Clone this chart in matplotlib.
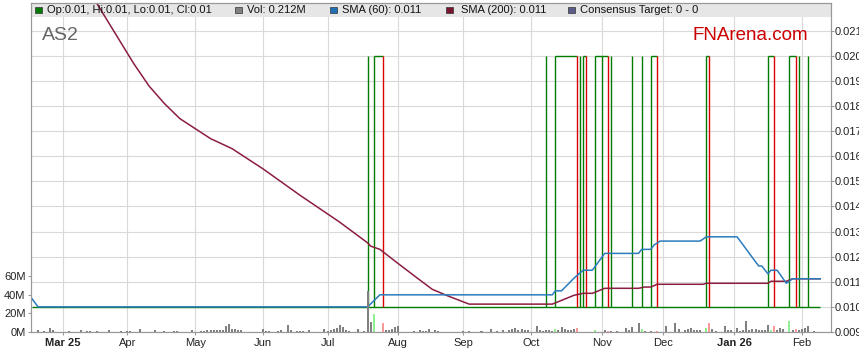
import numpy as np
import pandas as pd
import matplotlib
matplotlib.use("Agg")
from matplotlib import pyplot as plt
from matplotlib.patches import Rectangle

plt.rcParams['font.family'] = ['Liberation Sans', 'DejaVu Sans']

# x axis runs on weekdays only
days = pd.bdate_range("2025-02-17", "2026-02-13")
first_day = "2025-02-17"
last_day = "2026-02-10"

# close sits at 0.010, jumping to 0.020 from run_start to run_end
price_low = 0.010
price_high = 0.020
run_start = ["2025-07-18", "2025-07-22", "2025-10-08", "2025-10-13", "2025-10-23", "2025-10-24",
             "2025-10-30", "2025-11-03", "2025-11-06", "2025-11-17", "2025-11-20", "2025-11-25",
             "2025-12-19", "2026-01-16", "2026-01-27", "2026-01-30", "2026-02-04"]
run_end = ["2025-07-18", "2025-07-25", "2025-10-08", "2025-10-22", "2025-10-23", "2025-10-27",
           "2025-11-05", "2025-11-03", "2025-11-06", "2025-11-17", "2025-11-20", "2025-11-27",
           "2025-12-22", "2026-01-20", "2026-01-29", "2026-01-30", "2026-02-04"]

sma60_dates = ["2025-02-17", "2025-02-19", "2025-07-18", "2025-07-24", "2025-10-10", "2025-10-13",
               "2025-10-15", "2025-10-21", "2025-10-24", "2025-10-29", "2025-11-04", "2025-11-19",
               "2025-11-20", "2025-11-25", "2025-11-26", "2025-11-28", "2025-12-17", "2025-12-19",
               "2026-01-02", "2026-01-13", "2026-01-14", "2026-01-16", "2026-01-19", "2026-01-21",
               "2026-01-26", "2026-01-28", "2026-02-10"]
sma60_vals = [0.01033, 0.0100, 0.0100, 0.01048, 0.01048, 0.01064,
              0.01064, 0.01114, 0.01146, 0.01146, 0.01213, 0.01213,
              0.01229, 0.01229, 0.01246, 0.01262, 0.01262, 0.01279,
              0.01279, 0.01163, 0.01163, 0.01132, 0.01146, 0.01146,
              0.01094, 0.01112, 0.01112]

sma200_dates = ["2025-02-17", "2025-03-18", "2025-03-24", "2025-03-28", "2025-04-03", "2025-04-10",
                "2025-04-17", "2025-04-24", "2025-05-01", "2025-05-08", "2025-05-19", "2025-06-02",
                "2025-06-18", "2025-07-07", "2025-07-18", "2025-07-21", "2025-07-24", "2025-08-01",
                "2025-08-11", "2025-08-18", "2025-08-25", "2025-09-03", "2025-10-10", "2025-10-21",
                "2025-10-24", "2025-10-29", "2025-11-04", "2025-11-19", "2025-11-21", "2025-11-25",
                "2025-11-27", "2025-12-18", "2025-12-19", "2026-01-16", "2026-01-19", "2026-01-26",
                "2026-01-28", "2026-02-10"]
sma200_vals = [0.0262, 0.0221, 0.0213, 0.0205, 0.0197, 0.0188,
               0.0181, 0.0175, 0.0171, 0.0167, 0.0163, 0.0155,
               0.01445, 0.01337, 0.01255, 0.01242, 0.01229, 0.01172,
               0.01116, 0.0107, 0.01044, 0.01011, 0.01011, 0.01046,
               0.01054, 0.01054, 0.01074, 0.01074, 0.01079, 0.01079,
               0.0109, 0.0109, 0.01094, 0.01094, 0.01102, 0.01102,
               0.01112, 0.01112]

# volume in millions of shares
vol_dates = [
    "2025-02-19", "2025-02-21", "2025-02-25", "2025-02-26",
    "2025-03-05", "2025-03-11", "2025-03-13", "2025-03-14", "2025-03-18", "2025-03-24", "2025-03-28",
    "2025-04-01", "2025-04-02", "2025-04-07", "2025-04-14", "2025-04-17", "2025-04-22", "2025-04-23",
    "2025-04-30",
    "2025-05-05", "2025-05-06", "2025-05-07", "2025-05-08", "2025-05-09", "2025-05-12", "2025-05-13",
    "2025-05-14", "2025-05-15", "2025-05-16", "2025-05-19", "2025-05-20", "2025-05-21", "2025-05-22",
    "2025-06-02", "2025-06-03", "2025-06-04", "2025-06-09", "2025-06-10", "2025-06-12", "2025-06-13",
    "2025-06-17", "2025-06-18", "2025-06-19", "2025-06-23", "2025-06-30",
    "2025-07-01", "2025-07-02", "2025-07-03", "2025-07-04", "2025-07-07", "2025-07-08", "2025-07-09",
    "2025-07-10", "2025-07-15", "2025-07-17", "2025-07-18", "2025-07-21", "2025-07-22", "2025-07-25",
    "2025-07-28", "2025-07-29", "2025-07-30", "2025-07-31",
    "2025-08-01", "2025-08-08", "2025-08-12", "2025-08-13", "2025-08-14", "2025-08-15", "2025-08-19",
    "2025-08-20",
    "2025-09-01", "2025-09-03", "2025-09-09", "2025-09-12", "2025-09-16", "2025-09-18", "2025-09-22",
    "2025-09-23", "2025-09-24", "2025-09-25", "2025-09-26", "2025-09-29", "2025-09-30",
    "2025-10-03", "2025-10-06", "2025-10-07", "2025-10-08", "2025-10-09", "2025-10-10", "2025-10-13",
    "2025-10-14", "2025-10-15", "2025-10-16", "2025-10-17", "2025-10-20", "2025-10-21", "2025-10-22",
    "2025-10-30",
    "2025-11-04", "2025-11-05", "2025-11-06", "2025-11-10", "2025-11-13", "2025-11-14", "2025-11-17",
    "2025-11-19", "2025-11-20", "2025-11-21", "2025-11-25", "2025-11-27",
    "2025-12-02", "2025-12-05", "2025-12-08", "2025-12-10", "2025-12-11", "2025-12-12", "2025-12-15",
    "2025-12-16", "2025-12-17", "2025-12-19", "2025-12-22", "2025-12-23", "2025-12-24", "2025-12-29",
    "2025-12-30", "2025-12-31",
    "2026-01-02", "2026-01-05", "2026-01-06", "2026-01-07", "2026-01-08", "2026-01-09", "2026-01-12",
    "2026-01-13", "2026-01-14", "2026-01-15", "2026-01-16", "2026-01-19", "2026-01-20", "2026-01-21",
    "2026-01-22", "2026-01-23", "2026-01-27", "2026-01-28", "2026-01-29", "2026-01-30",
    "2026-02-02", "2026-02-03", "2026-02-04", "2026-02-06"]
vol_m = [
    2.1, 1.1, 4.3, 1.8,
    1.1, 2.1, 1.1, 1.1, 1.1, 2.1, 1.1,
    1.1, 1.1, 3.2, 1.8, 1.1, 1.1, 1.1,
    2.1,
    1.1, 1.1, 2.1, 2.1, 2.1, 2.1, 1.8,
    2.1, 6.4, 8.6, 3.6, 2.9, 2.1, 2.1,
    3.2, 1.1, 1.1, 1.1, 2.1, 7.5, 1.8,
    1.1, 1.1, 1.1, 2.1, 3.2,
    1.1, 2.1, 3.2, 4.3, 7.1, 5.7, 2.1,
    1.1, 3.2, 1.1, 44.0, 11.0, 19.3, 10.0,
    2.1, 2.1, 3.6, 5.0,
    6.4, 1.1, 2.1, 1.1, 1.1, 2.9, 2.1,
    1.1,
    1.1, 1.1, 1.1, 3.2, 1.1, 2.1, 2.1,
    3.2, 3.9, 2.1, 3.2, 2.1, 2.1,
    6.4, 2.1, 1.1, 2.1, 2.1, 1.1, 3.2,
    2.1, 5.0, 3.2, 2.1, 2.1, 3.2, 4.3,
    2.1,
    2.1, 1.1, 1.1, 1.1, 4.3, 2.1, 5.0,
    9.6, 3.2, 1.1, 1.1, 1.1,
    6.4, 10.0, 3.2, 2.1, 3.2, 4.3, 2.1,
    2.1, 2.1, 4.3, 9.6, 3.2, 1.1, 6.4,
    2.1, 2.1,
    4.3, 1.1, 2.1, 12.1, 2.1, 3.2, 3.2,
    2.1, 2.1, 2.1, 7.1, 2.1, 6.4, 2.1,
    4.3, 3.2, 12.1, 2.1, 3.2, 2.1,
    3.2, 4.3, 6.4, 1.1]
up_days = ["2025-07-22", "2025-10-13", "2025-10-30", "2025-11-20", "2025-12-19", "2026-01-19", "2026-01-27"]
down_days = ["2025-07-25", "2025-10-22", "2025-11-05", "2025-11-27", "2025-12-22", "2026-01-20", "2026-01-29"]

month_labels = ["Mar 25", "Apr", "May", "Jun", "Jul", "Aug", "Sep", "Oct", "Nov", "Dec", "Jan 26", "Feb"]
month_firsts = ["2025-03-01", "2025-04-01", "2025-05-01", "2025-06-01", "2025-07-01", "2025-08-01",
                "2025-09-01", "2025-10-01", "2025-11-01", "2025-12-01", "2026-01-01", "2026-02-01"]


def idx(dates):
    return days.get_indexer(pd.to_datetime(dates))


GREEN = '#007d00'
RED = '#dd0000'
FRAME = '#999999'

fig = plt.figure(figsize=(8.59, 3.63), dpi=100)
ax = fig.add_axes([31 / 859, 31 / 363, 800 / 859, 329 / 363])
ax.set_xlim(-0.3, 259.5)
ax.set_ylim(0.009, 0.0221)
ax.set_axisbelow(True)
ax.grid(True, color='#d9d9d9', lw=0.8)

# price line
i0, i1 = idx([first_day, last_day])
ax.hlines(price_low, i0, i1, color=GREEN, lw=1.0, zorder=3)
for s, e in zip(idx(run_start), idx(run_end)):
    ax.vlines(s, price_low, price_high, color=GREEN, lw=1.0, zorder=3)
    if e != s:
        ax.hlines(price_high, s, e, color=GREEN, lw=1.0, zorder=3)
        ax.vlines(e, price_low, price_high, color=RED, lw=1.0, zorder=3)

ax.plot(idx(sma200_dates), sma200_vals, color='#8b1e3f', lw=1.1, zorder=4)
ax.plot(idx(sma60_dates), sma60_vals, color='#2b7bbd', lw=1.1, zorder=4)

# grey header band with the legend
hh = 14 / 329
ax.add_patch(Rectangle((0, 1 - hh), 1, hh, transform=ax.transAxes,
                       facecolor='#e6e6e6', edgecolor='none', zorder=1))
legend = [('#007a00', "Op:0.01, Hi:0.01, Lo:0.01, Cl:0.01", 35, 46.7),
          ('#808080', "Vol: 0.212M", 235, 246.7),
          ('#1f6fb5', "SMA (60): 0.011", 330, 341.7),
          ('#7a1530', "SMA (200): 0.011", 446, 460.7),
          ('#5c5c8a', "Consensus Target: 0 - 0", 568, 580)]
yc = 1 - 7 / 329
for col, txt, xs, xt in legend:
    ax.add_patch(Rectangle(((xs - 31) / 800, yc - 3.3 / 329), 6.5 / 800, 6.5 / 329,
                           transform=ax.transAxes, facecolor=col, edgecolor='#333333',
                           lw=0.5, zorder=5, clip_on=False))
    ax.text((xt - 31) / 800, yc, txt, transform=ax.transAxes, fontsize=8,
            va='center', ha='left', color='#111111', zorder=5)

ax.text((41.7 - 31) / 800, (332 - 40) / 329, "AS2", transform=ax.transAxes,
        fontsize=14, color='#666666', va='baseline', ha='left', zorder=5)
ax.text((808.3 - 31) / 800, (332 - 40) / 329, "FNArena.com", transform=ax.transAxes,
        fontsize=13.5, color='#cc0000', va='baseline', ha='right', zorder=5)

# volume on its own scale
axv = ax.twinx()
axv.set_ylim(0, 352)
vol_col = ['#90ee90' if d in up_days else '#ff9999' if d in down_days else '#808080'
           for d in vol_dates]
axv.bar(idx(vol_dates), vol_m, width=0.65, color=vol_col, linewidth=0, zorder=2)

ax.yaxis.tick_right()
axv.yaxis.tick_left()
ax.set_yticks(np.arange(9, 22) / 1000)
ax.set_yticklabels([f"{v:.3f}" for v in np.arange(9, 22) / 1000])
axv.set_yticks([0, 20, 40, 60])
axv.set_yticklabels(["0M", "20M", "40M", "60M"])

ax.set_xticks(idx(pd.to_datetime(month_firsts).map(lambda d: days[days >= d][0])))
ax.set_xticklabels(month_labels)
for lab in ax.get_xticklabels():
    if ' ' in lab.get_text():
        lab.set_fontweight('bold')

for a in (ax, axv):
    a.tick_params(axis='both', length=2.5, width=0.8, color=FRAME, labelsize=8,
                  labelcolor='#222222', pad=1.5)
    for sp in a.spines.values():
        sp.set_color(FRAME)
        sp.set_linewidth(0.8)
ax.tick_params(axis='y', pad=0.3)

fig.savefig("out.png", dpi=100)
